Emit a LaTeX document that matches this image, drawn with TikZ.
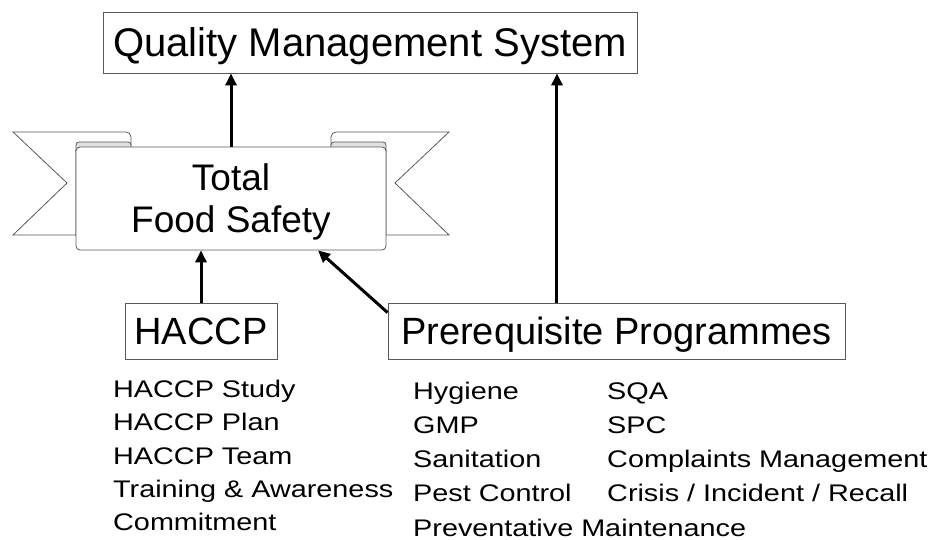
\documentclass[tikz,border=0pt]{standalone}
\usepackage{fontspec}
\setmainfont{Liberation Sans}
\newfontfamily\listfont[FakeStretch=1.2]{Liberation Sans}
\usetikzlibrary{arrows.meta,calc}
\begin{document}
\begin{tikzpicture}[x=1pt,y=-1pt,
  box/.style={draw=black!65,line width=0.8pt,inner sep=0pt,text depth=0pt},
  banner/.style={draw=black!65,line width=0.8pt,fill=white},
  arr/.style={line width=3pt,-{Triangle[length=12pt,width=11pt]}},
  item/.style={anchor=base west,inner sep=0pt,font=\listfont\fontsize{24}{28}\selectfont}]
\useasboundingbox (0,0) rectangle (934,540);
\node[box,minimum width=534pt,minimum height=61pt,font=\fontsize{40}{48}\selectfont] (qms) at (370,42.5) {Quality Management System};
% ribbon wings and curls
\draw[banner] (76,235) -- (13,235) -- (67,183) -- (13,132) -- (126,132) to[out=0,in=90] (131,137) -- (131,150) -- (76,150) -- cycle;
\draw[banner] (386,235) -- (449,235) -- (395,183) -- (449,132) -- (336,132) to[out=180,in=90] (331,137) -- (331,150) -- (386,150) -- cycle;
\draw[banner,fill=black!12,rounded corners=3pt] (76,152) -- (76,142) -- (131,142) -- (131,152);
\draw[banner,fill=black!12,rounded corners=3pt] (386,152) -- (386,142) -- (331,142) -- (331,152);
\node[banner,rounded corners=4pt,minimum width=310pt,minimum height=103pt,inner sep=0pt,align=center,text depth=0pt,font=\fontsize{37}{42}\selectfont] (tfs) at (231,198.5) {Total\\Food Safety};
\node[box,minimum width=152pt,minimum height=56pt,font=\fontsize{38}{44}\selectfont] (haccp) at (201,331) {HACCP};
\node[box,minimum width=457pt,minimum height=56pt,font=\fontsize{38}{44}\selectfont] (prereq) at (616.5,331) {Prerequisite Programmes};
% connectors
\coordinate (ptop) at ($(prereq.north west)!0.37!(prereq.north east)$);
\coordinate (tfsin) at ($(tfs.south west)!0.78!(tfs.south east)$);
\draw[arr] (tfs.north) -- (tfs.north |- qms.south);
\draw[arr] (haccp.north) -- (haccp.north |- tfs.south);
\draw[arr] (ptop) -- (ptop |- qms.south);
\draw[arr] ([yshift=-10pt]prereq.north west) -- (tfsin);
% HACCP list
\node[item] (hstudy) at (113,397) {HACCP Study};
\node[item] (hplan) at (113,430.5) {HACCP Plan};
\node[item] (hteam) at (113,464) {HACCP Team};
\node[item] (htrain) at (113,497) {Training \& Awareness};
\node[item] (hcommit) at (113,530.5) {Commitment};
% prerequisite list
\node[item] (hygiene) at (413,399) {Hygiene};
\node[item] (gmp) at (413,433) {GMP};
\node[item] (sanit) at (413,467.5) {Sanitation};
\node[item] (pest) at (413,501) {Pest Control};
\node[item] (maint) at (413,536) {Preventative Maintenance};
\node[item] (sqa) at (607,399) {SQA};
\node[item] (spc) at (607,433) {SPC};
\node[item] (compl) at (607,467.5) {Complaints Management};
\node[item] (crisis) at (607,501) {Crisis / Incident / Recall};
\end{tikzpicture}
\end{document}
